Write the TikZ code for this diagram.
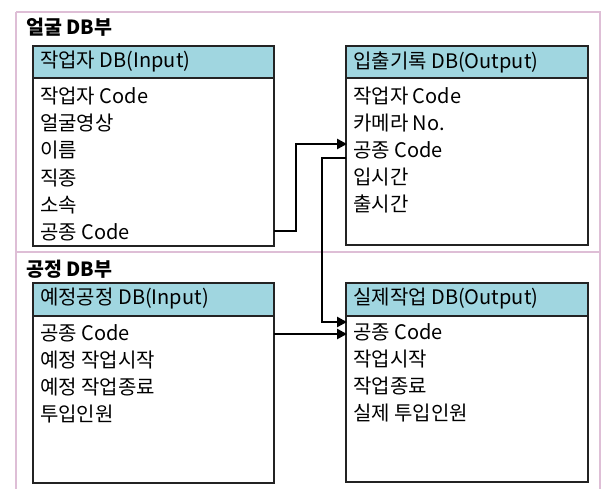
\documentclass[tikz,border=0pt]{standalone}
\usepackage{fontspec}
\setmainfont{Noto Sans CJK KR}
\usetikzlibrary{arrows.meta}
\definecolor{frameC}{RGB}{222,190,214}
\definecolor{headC}{RGB}{160,214,224}
\definecolor{boxC}{RGB}{35,35,35}
\begin{document}
\begin{tikzpicture}[x=1pt,y=-1pt,
  framebox/.style={draw=frameC,line width=1.8pt},
  dbbox/.style={draw=boxC,line width=1.8pt,fill=white,inner sep=0pt},
  dbhead/.style={draw=boxC,line width=1.8pt,fill=headC,inner sep=0pt},
  rowtxt/.style={anchor=west,inner sep=0pt,font=\fontsize{20}{24}\selectfont},
  headtxt/.style={anchor=west,inner sep=0pt,font=\fontsize{20}{24}\selectfont},
  sectxt/.style={anchor=west,inner sep=0pt,font=\bfseries\fontsize{19.5}{24}\selectfont},
  link/.style={draw=black,line width=2.8pt,-{Triangle[length=10pt,width=10pt]}}]
\useasboundingbox (0,0) rectangle (603,488);
\fill[white] (0,0) rectangle (603,488);
% outer frame
\draw[framebox] (16,12) -- (600,12) -- (600,500);
\draw[framebox] (16,12) -- (16,500);
\draw[framebox] (16,252) -- (600,252);
% section titles
\node[sectxt] (t1) at (26,27) {얼굴 DB부};
\node[sectxt] (t2) at (26,269) {공정 DB부};
% boxes
\draw[dbbox] (33,46) rectangle (274,246);
\draw[dbhead] (33,46) rectangle (274,78);
\draw[dbbox] (346,46) rectangle (588,245);
\draw[dbhead] (346,46) rectangle (588,78);
\draw[dbbox] (33,283) rectangle (274,483);
\draw[dbhead] (33,283) rectangle (274,316);
\draw[dbbox] (346,283) rectangle (588,482);
\draw[dbhead] (346,283) rectangle (588,316);
% headers
\node[headtxt] (ha) at (40,62) {작업자 DB(Input)};
\node[headtxt] (hb) at (353,62) {입출기록 DB(Output)};
\node[headtxt] (hc) at (40,299) {예정공정 DB(Input)};
\node[headtxt] (hd) at (353,299) {실제작업 DB(Output)};
% rows A
\node[rowtxt] (a1) at (40,96) {작업자 Code};
\node[rowtxt] (a2) at (40,123) {얼굴영상};
\node[rowtxt] (a3) at (40,150) {이름};
\node[rowtxt] (a4) at (40,178) {직종};
\node[rowtxt] (a5) at (40,205) {소속};
\node[rowtxt] (a6) at (40,232) {공종 Code};
% rows B
\node[rowtxt] (b1) at (353,96) {작업자 Code};
\node[rowtxt] (b2) at (353,123) {카메라 No.};
\node[rowtxt] (b3) at (353,150) {공종 Code};
\node[rowtxt] (b4) at (353,177) {입시간};
\node[rowtxt] (b5) at (353,204) {출시간};
% rows C
\node[rowtxt] (c1) at (40,333) {공종 Code};
\node[rowtxt] (c2) at (40,360) {예정 작업시작};
\node[rowtxt] (c3) at (40,387) {예정 작업종료};
\node[rowtxt] (c4) at (40,414) {투입인원};
% rows D
\node[rowtxt] (d1) at (353,332) {공종 Code};
\node[rowtxt] (d2) at (353,359) {작업시작};
\node[rowtxt] (d3) at (353,386) {작업종료};
\node[rowtxt] (d4) at (353,413) {실제 투입인원};
% connectors
\coordinate (k1a) at (274,231);
\coordinate (k1b) at (296,231);
\coordinate (k1c) at (296,144);
\coordinate (k1d) at (347,144);
\draw[link] (k1a) -- (k1b) -- (k1c) -- (k1d);
\coordinate (k2a) at (346,158);
\coordinate (k2b) at (322,158);
\coordinate (k2c) at (322,322);
\coordinate (k2d) at (347,322);
\draw[link] (k2a) -- (k2b) -- (k2c) -- (k2d);
\coordinate (k3a) at (274,334);
\coordinate (k3b) at (347,334);
\draw[link] (k3a) -- (k3b);
\end{tikzpicture}
\end{document}
